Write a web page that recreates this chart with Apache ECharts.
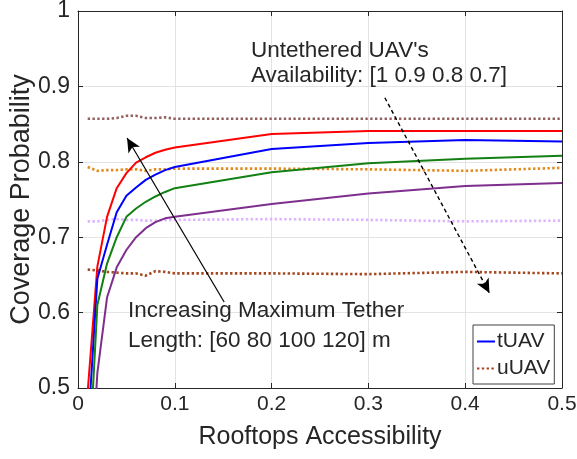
<!DOCTYPE html>
<html>
<head>
<meta charset="utf-8">
<script src="https://cdn.jsdelivr.net/npm/echarts@6/dist/echarts.min.js"></script>
<style>html,body{margin:0;padding:0;background:#fff;}#c{width:577px;height:459px;}</style>
</head>
<body>
<div id="c"></div>
<script>
// Rooftops accessibility (x)
const xValues = [0.01, 0.02, 0.03, 0.04, 0.05, 0.06, 0.07, 0.08, 0.09, 0.1, 0.2, 0.3, 0.4, 0.5];
// Tethered UAV coverage for max tether length 60, 80, 100, 120 m
const tether60  = [0.495, 0.661, 0.727, 0.765, 0.785, 0.799, 0.806, 0.812, 0.816, 0.819, 0.837, 0.841, 0.841, 0.841];
const tether80  = [0.438, 0.645, 0.690, 0.733, 0.755, 0.766, 0.776, 0.783, 0.789, 0.793, 0.817, 0.825, 0.829, 0.827];
const tether100 = [0.366, 0.610, 0.665, 0.700, 0.727, 0.738, 0.747, 0.754, 0.760, 0.765, 0.786, 0.798, 0.804, 0.808];
const tether120 = [0.300, 0.520, 0.620, 0.660, 0.683, 0.700, 0.712, 0.720, 0.725, 0.727, 0.744, 0.758, 0.768, 0.772];
// Untethered UAV coverage for availability 1, 0.9, 0.8, 0.7
const untethered100 = [0.857, 0.857, 0.857, 0.858, 0.861, 0.861, 0.858, 0.858, 0.859, 0.857, 0.857, 0.857, 0.857, 0.857];
const untethered90  = [0.793, 0.788, 0.789, 0.789, 0.790, 0.790, 0.788, 0.790, 0.790, 0.791, 0.791, 0.790, 0.788, 0.792];
const untethered80  = [0.721, 0.721, 0.723, 0.724, 0.723, 0.723, 0.722, 0.722, 0.723, 0.723, 0.724, 0.723, 0.721, 0.722];
const untethered70  = [0.657, 0.656, 0.654, 0.653, 0.652, 0.652, 0.649, 0.655, 0.654, 0.652, 0.652, 0.651, 0.654, 0.652];
// Axis ticks
const xTicks = [0, 0.1, 0.2, 0.3, 0.4, 0.5];
const yTicks = [0.5, 0.6, 0.7, 0.8, 0.9, 1];
// Annotation arrows (data coordinates)
const tetherArrow = [[0.151, 0.614], [0.0507, 0.8316]];
const availArrow = [[0.317, 0.885], [0.425, 0.626]];

const FONT = '"Liberation Sans", Arial, Helvetica, sans-serif';
const TXT = '#262626';
const zip = v => xValues.map((x, i) => [x, v[i]]);

function solid(name, data, color) {
  return { name, type: 'line', data: zip(data), symbol: 'none', clip: true,
    lineStyle: { color, width: 2 }, itemStyle: { color }, z: 3 };
}
function dotted(name, data, color) {
  return { name, type: 'line', data: zip(data), symbol: 'none', clip: true,
    lineStyle: { color, width: 2.6, type: [2.4, 2.4], cap: 'butt' }, itemStyle: { color }, z: 2 };
}

const chart = echarts.init(document.getElementById('c'), null, { renderer: 'canvas' });
const axisCommon = {
  type: 'value',
  axisLine: { show: true, onZero: false, lineStyle: { color: TXT, width: 1 } },
  axisTick: { show: true, inside: true, length: 5, lineStyle: { color: TXT } }
};
chart.setOption({
  animation: false,
  backgroundColor: '#fff',
  grid: { left: 78, right: 15, top: 11, bottom: 71, containLabel: false, outerBoundsMode: 'none' },
  xAxis: [
    Object.assign({}, axisCommon, {
      min: xTicks[0], max: xTicks[xTicks.length - 1], interval: 0.1,
      name: 'Rooftops Accessibility', nameLocation: 'middle', nameGap: 37, nameMoveOverlap: false,
      nameTextStyle: { fontFamily: FONT, fontSize: 25, color: TXT },
      axisLabel: { fontFamily: FONT, fontSize: 21, color: TXT, margin: 6 },
      splitLine: { show: true, lineStyle: { color: '#e3e3e3', width: 1 } }
    }),
    Object.assign({}, axisCommon, {
      position: 'top', min: xTicks[0], max: xTicks[xTicks.length - 1], interval: 0.1,
      axisLabel: { show: false }, splitLine: { show: false }
    })
  ],
  yAxis: [
    Object.assign({}, axisCommon, {
      min: yTicks[0], max: yTicks[yTicks.length - 1], interval: 0.1,
      name: 'Coverage Probability', nameLocation: 'middle', nameGap: 43, nameMoveOverlap: false,
      nameTextStyle: { fontFamily: FONT, fontSize: 27, color: TXT },
      axisLabel: { fontFamily: FONT, fontSize: 23, color: TXT, margin: 8 },
      splitLine: { show: true, lineStyle: { color: '#e3e3e3', width: 1 } }
    }),
    Object.assign({}, axisCommon, {
      position: 'right', min: yTicks[0], max: yTicks[yTicks.length - 1], interval: 0.1,
      axisLabel: { show: false }, splitLine: { show: false }
    })
  ],
  legend: {
    data: ['tUAV', 'uUAV'], orient: 'vertical', left: 473, top: 325,
    backgroundColor: '#fff', borderColor: '#404040', borderWidth: 1,
    padding: [6, 4, 5, 3], itemWidth: 18, itemHeight: 20, itemGap: 6,
    itemStyle: { opacity: 0 },
    textStyle: { fontFamily: FONT, fontSize: 21, lineHeight: 20, color: TXT, padding: [0, 0, 0, -3] }
  },
  series: [
    dotted('uUAV (1)', untethered100, '#946060'),
    dotted('uUAV (0.9)', untethered90, '#e28a1c'),
    dotted('uUAV (0.8)', untethered80, '#dcb4ff'),
    dotted('uUAV', untethered70, '#a5461e'),
    solid('tUAV (60 m)', tether60, '#ff0000'),
    solid('tUAV', tether80, '#0000ff'),
    solid('tUAV (100 m)', tether100, '#128012'),
    solid('tUAV (120 m)', tether120, '#7e2f8e'),
    { name: 'arrows', type: 'line', data: [], symbol: 'none', z: 5,
      markLine: { silent: true, animation: false, label: { show: false },
        symbol: ['none', 'arrow'], symbolSize: [10, 14],
        data: [
          [{ coord: tetherArrow[0], lineStyle: { color: '#000', width: 1.2, type: 'solid' } }, { coord: tetherArrow[1] }],
          [{ coord: availArrow[0], lineStyle: { color: '#000', width: 1.4, type: [4, 3] } }, { coord: availArrow[1] }]
        ] } }
  ],
  graphic: [
    { type: 'text', left: 251, top: 38, z: 10,
      style: { text: "Untethered UAV's\nAvailability: [1 0.9 0.8 0.7]", font: '22.5px ' + FONT, fill: TXT, lineHeight: 25 } },
    { type: 'text', left: 128, top: 296, z: 10,
      style: { text: 'Increasing Maximum Tether\nLength: [60 80 100 120] m', font: '22.5px ' + FONT, fill: TXT, lineHeight: 30 } }
  ]
});
</script>
</body>
</html>
